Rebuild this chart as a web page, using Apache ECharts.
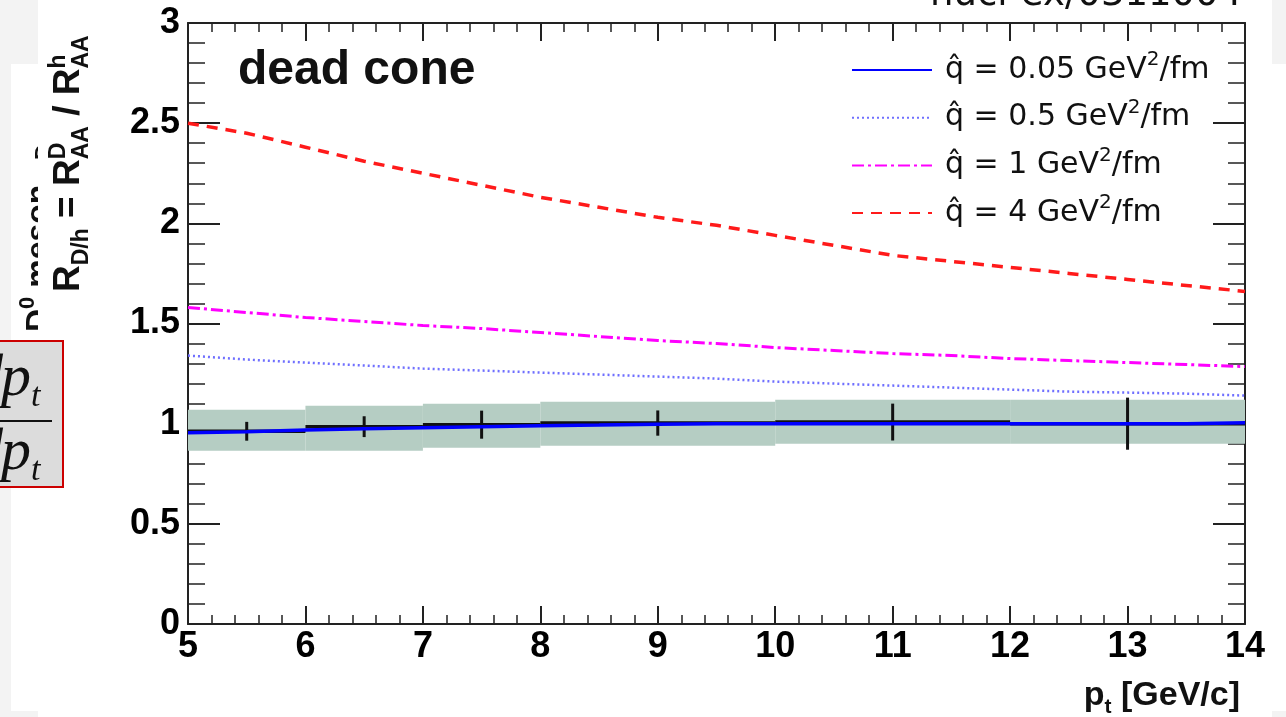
<!DOCTYPE html>
<html>
<head>
<meta charset="utf-8">
<script src="https://cdn.jsdelivr.net/npm/echarts@6/dist/echarts.min.js"></script>
<style>
  html, body { margin: 0; padding: 0; background: #f3f3f3; }
  #chart { width: 1286px; height: 717px; }
</style>
</head>
<body>
<div id="chart"></div>
<script>
// transverse momentum grid of the model curves [GeV/c]
const pt = [5, 5.5, 6, 6.5, 7, 7.5, 8, 8.5, 9, 9.5, 10, 10.5, 11, 11.5, 12, 12.5, 13, 13.5, 14];

// R_D/h for four values of the transport coefficient q-hat
const qHat005 = [0.955, 0.96, 0.968, 0.975, 0.98, 0.985, 0.99, 0.993, 0.997, 1.0, 1.0, 1.0, 1.0, 1.0, 1.0, 1.0, 1.0, 1.0, 1.005];
const qHat05  = [1.34, 1.32, 1.305, 1.29, 1.275, 1.265, 1.255, 1.245, 1.235, 1.225, 1.21, 1.2, 1.19, 1.18, 1.17, 1.16, 1.155, 1.15, 1.14];
const qHat1   = [1.58, 1.555, 1.53, 1.51, 1.49, 1.475, 1.455, 1.435, 1.415, 1.4, 1.38, 1.365, 1.35, 1.34, 1.325, 1.315, 1.305, 1.295, 1.285];
const qHat4   = [2.5, 2.45, 2.38, 2.31, 2.25, 2.19, 2.13, 2.08, 2.03, 1.99, 1.94, 1.89, 1.84, 1.81, 1.78, 1.75, 1.72, 1.69, 1.66];

// projected measurement: bins, ratio, statistical error, systematic band
const binEdges = [5, 6, 7, 8, 10, 12, 14];
const ratio    = [0.962, 0.985, 0.995, 1.003, 1.008, 1.0];
const statErr  = [0.047, 0.052, 0.07, 0.063, 0.092, 0.13];
const sysLow   = [0.865, 0.865, 0.88, 0.89, 0.9, 0.9];
const sysHigh  = [1.07, 1.09, 1.1, 1.11, 1.12, 1.12];

// legend entries
const seriesKeys = ['q005', 'q05', 'q1', 'q4'];
const legendText = {
  q005: 'q\u0302 = 0.05 GeV{sup|2}/fm',
  q05:  'q\u0302 = 0.5 GeV{sup|2}/fm',
  q1:   'q\u0302 = 1 GeV{sup|2}/fm',
  q4:   'q\u0302 = 4 GeV{sup|2}/fm'
};

const INK = '#111';
const FRAME = '#222';
const SANS = 'Liberation Sans';

const measureCtx = document.createElement('canvas').getContext('2d');
function textWidth(text, font) {
  measureCtx.font = font;
  return measureCtx.measureText(text).width;
}

// lay out a run of text pieces on a common baseline (y = 0 in local coords)
function runOfText(pieces, family, weight, style, z) {
  let x = 0, held = 0;
  const children = [];
  pieces.forEach(p => {
    const font = `${style || 'normal'} ${weight} ${p.size}px "${family}"`;
    const w = textWidth(p.t, font);
    children.push({
      type: 'text', z: z, silent: true, x: x, y: (p.dy || 0) - 0.347 * p.size,
      style: { text: p.t, font: font, fill: p.fill || INK, align: 'left', verticalAlign: 'middle' }
    });
    if (p.hold) { held = w; }
    else { x += Math.max(w, held); held = 0; }
  });
  return { children, width: x };
}

const yTitle = runOfText([
  { t: 'R', size: 37 },
  { t: 'D/h', size: 23, dy: 8 },
  { t: ' = R', size: 37 },
  { t: 'D', size: 23, dy: -15, hold: true },
  { t: 'AA', size: 23, dy: 8 },
  { t: ' / R', size: 37 },
  { t: 'h', size: 23, dy: -15, hold: true },
  { t: 'AA', size: 23, dy: 8 }
], SANS, 'bold', 'normal', 10);

const xTitle = runOfText([
  { t: 'p', size: 34 },
  { t: 't', size: 21, dy: 7 },
  { t: ' [GeV/c]', size: 34 }
], SANS, 'bold', 'normal', 10);

const sideText = runOfText([
  { t: 'D', size: 32 },
  { t: '0', size: 22, dy: -14 },
  { t: ' meson', size: 32 }
], SANS, 'bold', 'normal', -15);

const sideMark = runOfText([{ t: 'D', size: 22 }], SANS, 'bold', 'normal', -15);

const fracPiece = () => runOfText([{ t: 'p', size: 60 }, { t: 't', size: 34, dy: 9 }], 'Liberation Serif', 'normal', 'italic', 22);
const fracTop = fracPiece();
const fracBottom = fracPiece();

const axisLineStyle = { color: FRAME, width: 2 };

function xAxisDef(pos, labels) {
  return {
    type: 'value', min: 5, max: 14, interval: 1, position: pos,
    axisLine: { show: true, onZero: false, lineStyle: axisLineStyle },
    axisTick: { show: true, inside: true, length: 18, lineStyle: { color: FRAME, width: 2 } },
    minorTick: { show: true, splitNumber: 5, length: 9, lineStyle: { color: FRAME, width: 1.5 } },
    splitLine: { show: false },
    axisLabel: { show: labels, fontFamily: SANS, fontWeight: 'bold', fontSize: 36, color: '#000', margin: 5 }
  };
}
function yAxisDef(pos, labels) {
  return {
    type: 'value', min: 0, max: 3, interval: 0.5, position: pos,
    axisLine: { show: true, onZero: false, lineStyle: axisLineStyle },
    axisTick: { show: true, inside: true, length: 32, lineStyle: { color: FRAME, width: 2 } },
    minorTick: { show: true, splitNumber: 5, length: 17, lineStyle: { color: FRAME, width: 1.5 } },
    splitLine: { show: false },
    axisLabel: { show: labels, fontFamily: SANS, fontWeight: 'bold', fontSize: 36, color: '#000', margin: 8 }
  };
}

function curve(key, values, lineStyle) {
  return {
    name: key, type: 'line', symbol: 'none', showSymbol: false, z: 4,
    data: pt.map((x, i) => [x, values[i]]),
    lineStyle: lineStyle, itemStyle: { color: lineStyle.color },
    emphasis: { disabled: true }, silent: true
  };
}

const chart = echarts.init(document.getElementById('chart'), null, { renderer: 'canvas' });

chart.setOption({
  backgroundColor: '#f3f3f3',
  animation: false,
  textStyle: { fontFamily: SANS },
  grid: { left: 188, right: 41, top: 23, bottom: 93 },
  xAxis: [xAxisDef('bottom', true), xAxisDef('top', false)],
  yAxis: [yAxisDef('left', true), yAxisDef('right', false)],
  legend: {
    data: seriesKeys,
    orient: 'vertical', left: 846, top: 45,
    itemWidth: 80, itemHeight: 18, itemGap: 7.7,
    selectedMode: false,
    itemStyle: { opacity: 0 },
    formatter: name => legendText[name],
    textStyle: {
      fontFamily: 'DejaVu Sans', fontSize: 30, color: INK, lineHeight: 40,
      padding: [0, 0, 0, 8],
      rich: { sup: { fontFamily: 'DejaVu Sans', fontSize: 20, verticalAlign: 'top', lineHeight: 22 } }
    }
  },
  series: [
    {
      // systematic uncertainty band
      type: 'custom', z: 1, silent: true,
      data: sysLow.map((lo, i) => [binEdges[i], binEdges[i + 1], lo, sysHigh[i]]),
      encode: { x: [0, 1], y: [2, 3] },
      renderItem(params, api) {
        const a = api.coord([api.value(0), api.value(3)]);
        const b = api.coord([api.value(1), api.value(2)]);
        return {
          type: 'rect',
          shape: { x: a[0], y: a[1], width: b[0] - a[0], height: b[1] - a[1] },
          style: { fill: '#b5cdc3' }
        };
      }
    },
    {
      // measured ratio per bin with statistical error bars
      type: 'custom', z: 3, silent: true,
      data: ratio.map((v, i) => [binEdges[i], binEdges[i + 1], v, statErr[i]]),
      encode: { x: [0, 1], y: 2 },
      renderItem(params, api) {
        const x0 = api.value(0), x1 = api.value(1), v = api.value(2), e = api.value(3);
        const l = api.coord([x0, v]), r = api.coord([x1, v]);
        const xc = (x0 + x1) / 2;
        const top = api.coord([xc, v + e]), bot = api.coord([xc, v - e]);
        return {
          type: 'group',
          children: [
            { type: 'line', shape: { x1: l[0], y1: l[1], x2: r[0], y2: r[1] }, style: { stroke: '#111', lineWidth: 3.5 } },
            { type: 'line', shape: { x1: top[0], y1: top[1], x2: bot[0], y2: bot[1] }, style: { stroke: '#111', lineWidth: 3 } }
          ]
        };
      }
    },
    curve('q005', qHat005, { color: '#0000ff', width: 3.5, type: 'solid' }),
    curve('q05',  qHat05,  { color: '#6f6fff', width: 2.5, type: [2, 3] }),
    curve('q1',   qHat1,   { color: '#ff00ff', width: 3, type: [12, 4, 3, 4] }),
    curve('q4',   qHat4,   { color: '#ff1a1a', width: 3.5, type: [11, 8] })
  ],
  graphic: [
    // slide panel behind the plot
    { type: 'rect', z: -20, silent: true, shape: { x: 11, y: 64, width: 1275, height: 647 }, style: { fill: '#ffffff' } },
    // slide text peeking out left of the plot panel
    { type: 'group', z: -15, x: 50, y: 332, rotation: Math.PI / 2, silent: true, children: sideText.children },
    { type: 'group', z: -15, x: 52, y: 160, rotation: Math.PI / 2, silent: true, children: sideMark.children },
    // plot panel
    { type: 'rect', z: -10, silent: true, shape: { x: 38, y: 0, width: 1234, height: 717 }, style: { fill: '#ffffff' } },
    // vertical axis title
    { type: 'group', z: 10, x: 82, y: 292, rotation: Math.PI / 2, silent: true, children: yTitle.children },
    // horizontal axis title
    { type: 'group', z: 10, x: 1240 - xTitle.width, y: 707, silent: true, children: xTitle.children },
    // in-plot caption
    { type: 'text', z: 10, x: 238, y: 71, silent: true,
      style: { text: 'dead cone', font: `bold 48px "${SANS}"`, fill: INK, align: 'left', verticalAlign: 'middle' } },
    // reference tag at the top of the slide
    { type: 'text', z: 20, x: 930, y: 8 - 0.347 * 37, silent: true,
      style: { text: 'nucl-ex/0311004', font: '37px "DejaVu Sans"', fill: '#111', align: 'left', verticalAlign: 'middle' } },
    // formula box on the slide
    { type: 'rect', z: 20, silent: true, shape: { x: -2, y: 341, width: 65, height: 146 },
      style: { fill: '#dcdcdc', stroke: '#cc0000', lineWidth: 2 } },
    { type: 'group', z: 22, x: 1, y: 400, silent: true, children: fracTop.children },
    { type: 'text', z: 22, x: 3, y: 400 - 0.347 * 60, silent: true,
      style: { text: 'd', font: 'italic 60px "Liberation Serif"', fill: INK, align: 'right', verticalAlign: 'middle' } },
    { type: 'rect', z: 22, silent: true, shape: { x: 0, y: 420, width: 52, height: 2 }, style: { fill: INK } },
    { type: 'group', z: 22, x: 1, y: 474, silent: true, children: fracBottom.children },
    { type: 'text', z: 22, x: 3, y: 474 - 0.347 * 60, silent: true,
      style: { text: 'd', font: 'italic 60px "Liberation Serif"', fill: INK, align: 'right', verticalAlign: 'middle' } }
  ]
});
</script>
</body>
</html>
